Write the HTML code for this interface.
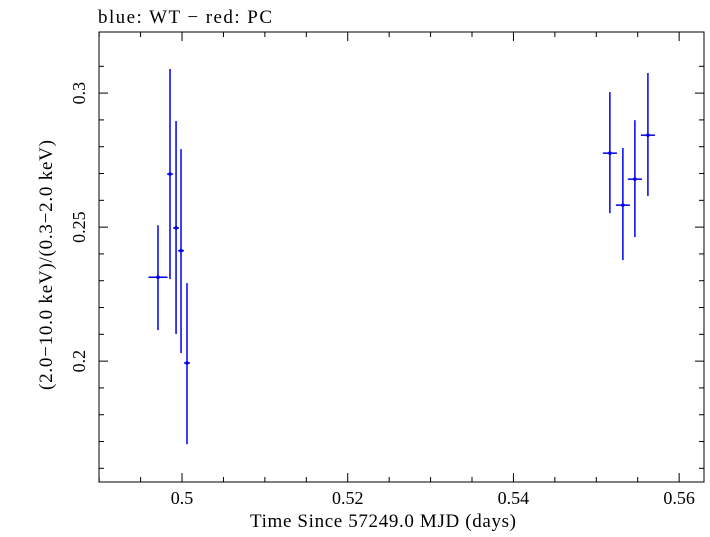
<!DOCTYPE html>
<html><head><meta charset="utf-8"><style>
body{margin:0;background:#fff}
svg text{font-family:"Liberation Serif",serif;fill:#000}
</style></head><body>
<svg width="710" height="532">
<g id="axes"></g>
<g id="data"></g>
<text x="98" y="23" font-size="19" textLength="174">blue: WT − red: PC</text>
<text x="383" y="527" font-size="19" text-anchor="middle" textLength="266">Time Since 57249.0 MJD (days)</text>
<text transform="translate(52,265) rotate(-90)" font-size="19" text-anchor="middle" textLength="250">(2.0−10.0 keV)/(0.3−2.0 keV)</text>
</svg>
<script>
const xVals=[0.4971,0.49855,0.49928,0.49988,0.5006,0.55164,0.55321,0.55466,0.55623];
const xErr=[0.00115,0.00035,0.00035,0.00035,0.00035,0.00085,0.00085,0.00085,0.00085];
const yVals=[0.2313,0.2698,0.2497,0.2412,0.1993,0.2776,0.2582,0.2679,0.2843];
const yHi=[0.2507,0.309,0.2896,0.2791,0.2291,0.3004,0.2795,0.2899,0.3075];
const yLo=[0.2116,0.2306,0.2101,0.203,0.169,0.2552,0.2377,0.2463,0.2616];
const xTicks=[0.5,0.52,0.54,0.56];
const yTicks=[0.2,0.25,0.3];
const L=99,R=704,T=32,B=482,x0=0.48998,x1=0.5630,y0=0.1549,y1=0.3228;
const sx=v=>L+(v-x0)/(x1-x0)*(R-L);
const sy=v=>B-(v-y0)/(y1-y0)*(B-T);
const NS="http://www.w3.org/2000/svg";
function mk(p,t,a){const e=document.createElementNS(NS,t);for(const k in a)e.setAttribute(k,a[k]);p.appendChild(e);return e;}
const ax=document.getElementById('axes');
const fr=mk(ax,'rect',{x:L,y:T,width:R-L,height:B-T,fill:'none',stroke:'#000','stroke-width':1});


for(let v=0.49;v<=0.563;v+=0.005){const X=sx(v);if(X<L||X>R)continue;const maj=xTicks.some(t=>Math.abs(t-v)<1e-6);const len=maj?9:5;
mk(ax,'line',{x1:X,x2:X,y1:B,y2:B-len,stroke:'#000'});mk(ax,'line',{x1:X,x2:X,y1:T,y2:T+len,stroke:'#000'});}
xTicks.forEach(t=>{const e=mk(ax,'text',{x:sx(t),y:B+22,'font-size':18,'text-anchor':'middle'});e.textContent=String(t);

});
for(let v=0.16;v<=0.32;v+=0.01){const Y=sy(v);if(Y<T||Y>B)continue;const maj=yTicks.some(t=>Math.abs(t-v)<1e-6);const len=maj?9:5;
mk(ax,'line',{x1:L,x2:L+len,y1:Y,y2:Y,stroke:'#000'});mk(ax,'line',{x1:R,x2:R-len,y1:Y,y2:Y,stroke:'#000'});}
yTicks.forEach(t=>{const e=mk(ax,'text',{transform:`translate(${L-14},${sy(t)}) rotate(-90)`,'font-size':18,'text-anchor':'middle'});e.textContent=String(t);

});
const dg=document.getElementById('data');
xVals.forEach((x,i)=>{const g=mk(dg,'g',{stroke:'#0000ee','stroke-width':1.5});


mk(g,'line',{x1:sx(x),x2:sx(x),y1:sy(yHi[i]),y2:sy(yLo[i])});
mk(g,'line',{x1:sx(x-xErr[i]),x2:sx(x+xErr[i]),y1:sy(yVals[i]),y2:sy(yVals[i])});
mk(g,'circle',{cx:sx(x),cy:sy(yVals[i]),r:1.8,fill:'#0000ee',stroke:'none'});});
</script>
</body></html>
